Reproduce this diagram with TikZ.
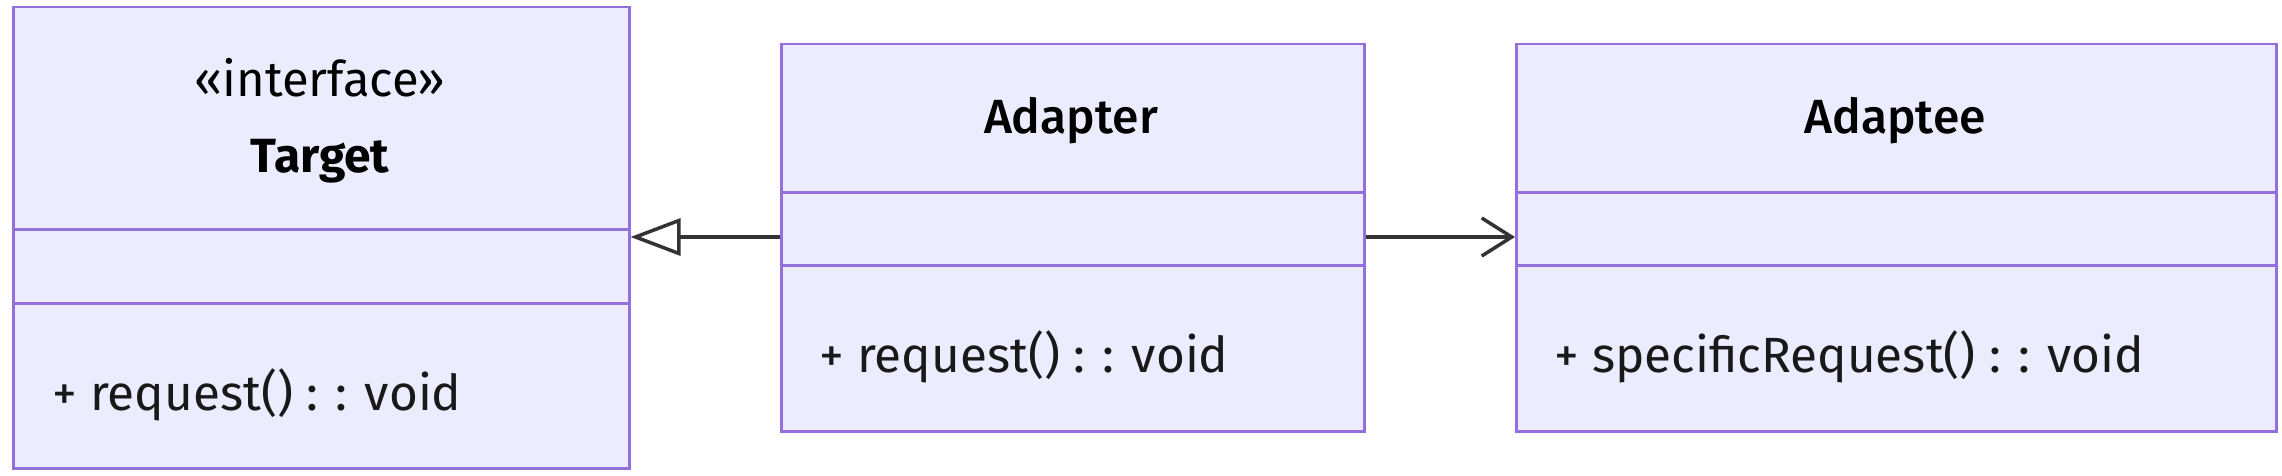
\documentclass[tikz,border=0pt]{standalone}
\usepackage{fontspec}
\setmainfont{Fira Sans}
\newfontfamily\medfont{Fira Sans Medium}
\usetikzlibrary{arrows.meta}
\definecolor{boxfill}{HTML}{ECECFF}
\definecolor{boxline}{HTML}{9370DB}
\definecolor{edge}{HTML}{333333}
\tikzset{
  comp/.style={draw=boxline, fill=boxfill, line width=2.5pt, rectangle, inner sep=0pt, anchor=north west},
  title/.style={font=\fontsize{48}{56}\selectfont\medfont, text=black, anchor=base, inner sep=0pt},
  btitle/.style={font=\fontsize{48}{56}\selectfont\bfseries, text=black, anchor=base, inner sep=0pt},
  stereo/.style={font=\fontsize{49}{56}\selectfont, text=black, anchor=base, inner sep=0pt},
  member/.style={font=\fontsize{49.5}{56}\selectfont, text=black!90, anchor=base west, inner sep=0pt},
  conn/.style={draw=edge, line width=3.5pt},
}
\begin{document}
\begin{tikzpicture}[x=1pt,y=-1pt]
\useasboundingbox (0,0) rectangle (2282,476);
% Target
\node[comp, minimum width=616pt, minimum height=222pt] (tgtT) at (12,6) {};
\node[comp, minimum width=616pt, minimum height=74pt] (tgtA) at (12,228) {};
\node[comp, minimum width=616pt, minimum height=165pt] (tgtM) at (12,302) {};
\node[stereo] (tgtS) at (320,97) {«interface»};
\node[btitle] (tgtN) at (320,172) {Target};
\node[member] (tgtR) at (52,410) {+ request() : : void};
% Adapter
\node[comp, minimum width=583pt, minimum height=148pt] (adpT) at (780,43) {};
\node[comp, minimum width=583pt, minimum height=73pt] (adpA) at (780,191) {};
\node[comp, minimum width=583pt, minimum height=166pt] (adpM) at (780,264) {};
\node[title] (adpN) at (1071,133) {Adapter};
\node[member] (adpR) at (819,372) {+ request() : : void};
% Adaptee
\node[comp, minimum width=760pt, minimum height=148pt] (adeT) at (1515,43) {};
\node[comp, minimum width=760pt, minimum height=73pt] (adeA) at (1515,191) {};
\node[comp, minimum width=760pt, minimum height=166pt] (adeM) at (1515,264) {};
\node[title] (adeN) at (1895,133) {Adaptee};
\node[member] (adeR) at (1554,372) {+ specificRequest() : : void};
% connectors
\draw[conn, -{Triangle[open, length=50pt, width=37pt, fill=white]}] (adpA.west |- 0,237) -- (tgtA.east |- 0,237);
\draw[conn, -{Straight Barb[length=30pt, width=38pt]}] (adpA.east |- 0,237) -- (adeA.west |- 0,237);
\end{tikzpicture}
\end{document}
